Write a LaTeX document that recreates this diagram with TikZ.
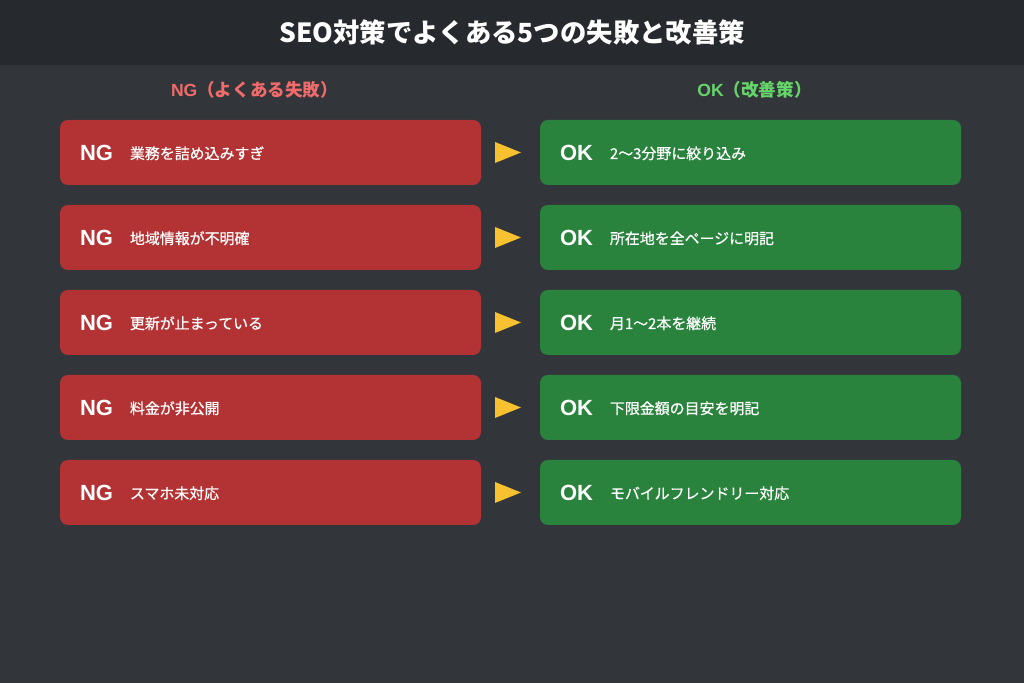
\documentclass[tikz,border=0pt]{standalone}
\usepackage{fontspec}
\setmainfont{Noto Sans CJK JP}
\newfontfamily\itemfont[FakeBold=0.7]{Noto Sans CJK JP}
\newfontfamily\tagfont{Liberation Sans}
\usepackage{tikz}
\usetikzlibrary{positioning, calc}
\definecolor{barbg}{HTML}{26292D}
\definecolor{pagebg}{HTML}{32363B}
\definecolor{ngred}{HTML}{B33335}
\definecolor{okgreen}{HTML}{2A833D}
\definecolor{nghead}{HTML}{F26B6B}
\definecolor{okhead}{HTML}{66D46A}
\definecolor{tipyellow}{HTML}{F8C12F}
\tikzstyle{ngbox} = [rectangle, rounded corners=0.16cm, fill=ngred, text=white, minimum
width=8.42cm, minimum height=1.3cm, text width=7.62cm, inner xsep=0.4cm, outer sep=0pt,
align=left, font=\itemfont\fontsize{8.5}{10}\selectfont]
\tikzstyle{okbox} = [ngbox, fill=okgreen]
\tikzstyle{tip} = [fill=tipyellow]
\newcommand{\tagNG}{\raisebox{-0.6pt}{\tagfont\bfseries\fontsize{12.5}{12}\selectfont NG}\hspace{0.34cm}}
\newcommand{\tagOK}{\raisebox{-0.6pt}{\tagfont\bfseries\fontsize{12.5}{12}\selectfont OK}\hspace{0.34cm}}

\begin{document}
\begin{tikzpicture}[node distance=0.4cm]
  \fill[pagebg] (0,0) rectangle (20.48,13.66);
  \fill[barbg] (0,12.36) rectangle (20.48,13.66);
  \useasboundingbox (0,0) rectangle (20.48,13.66);

  \node (title) [text=white, font=\fontsize{15}{15}\selectfont\bfseries] at (10.24,13.02)
  {SEO対策でよくある5つの失敗と改善策};
  \node (nghead) [text=nghead, font=\fontsize{10}{10}\selectfont\bfseries] at (5.09,11.86)
  {{\tagfont NG}（よくある失敗）};
  \node (okhead) [text=okhead, font=\fontsize{10}{10}\selectfont\bfseries] at (15.09,11.86)
  {{\tagfont OK}（改善策）};

  \node (ng1) [ngbox] at (5.41,10.61) {\tagNG 業務を詰め込みすぎ};
  \node (ok1) [okbox, right=1.18cm of ng1] {\tagOK 2〜3分野に絞り込み};
  \node (ng2) [ngbox, below=of ng1] {\tagNG 地域情報が不明確};
  \node (ok2) [okbox, below=of ok1] {\tagOK 所在地を全ページに明記};
  \node (ng3) [ngbox, below=of ng2] {\tagNG 更新が止まっている};
  \node (ok3) [okbox, below=of ok2] {\tagOK 月1〜2本を継続};
  \node (ng4) [ngbox, below=of ng3] {\tagNG 料金が非公開};
  \node (ok4) [okbox, below=of ok3] {\tagOK 下限金額の目安を明記};
  \node (ng5) [ngbox, below=of ng4] {\tagNG スマホ未対応};
  \node (ok5) [okbox, below=of ok4] {\tagOK モバイルフレンドリー対応};

  % yellow pointers between the columns
  \coordinate (mid1) at ($(ng1.east)!0.5!(ok1.west)+(-0.05,0)$);
  \coordinate (mid2) at ($(ng2.east)!0.5!(ok2.west)+(-0.05,0)$);
  \coordinate (mid3) at ($(ng3.east)!0.5!(ok3.west)+(-0.05,0)$);
  \coordinate (mid4) at ($(ng4.east)!0.5!(ok4.west)+(-0.05,0)$);
  \coordinate (mid5) at ($(ng5.east)!0.5!(ok5.west)+(-0.05,0)$);
  \fill[tip] (mid1) ++(-0.26,0.21) -- ++(0.52,-0.21) -- ++(-0.52,-0.21) -- cycle;
  \fill[tip] (mid2) ++(-0.26,0.21) -- ++(0.52,-0.21) -- ++(-0.52,-0.21) -- cycle;
  \fill[tip] (mid3) ++(-0.26,0.21) -- ++(0.52,-0.21) -- ++(-0.52,-0.21) -- cycle;
  \fill[tip] (mid4) ++(-0.26,0.21) -- ++(0.52,-0.21) -- ++(-0.52,-0.21) -- cycle;
  \fill[tip] (mid5) ++(-0.26,0.21) -- ++(0.52,-0.21) -- ++(-0.52,-0.21) -- cycle;

\end{tikzpicture}
\end{document}
